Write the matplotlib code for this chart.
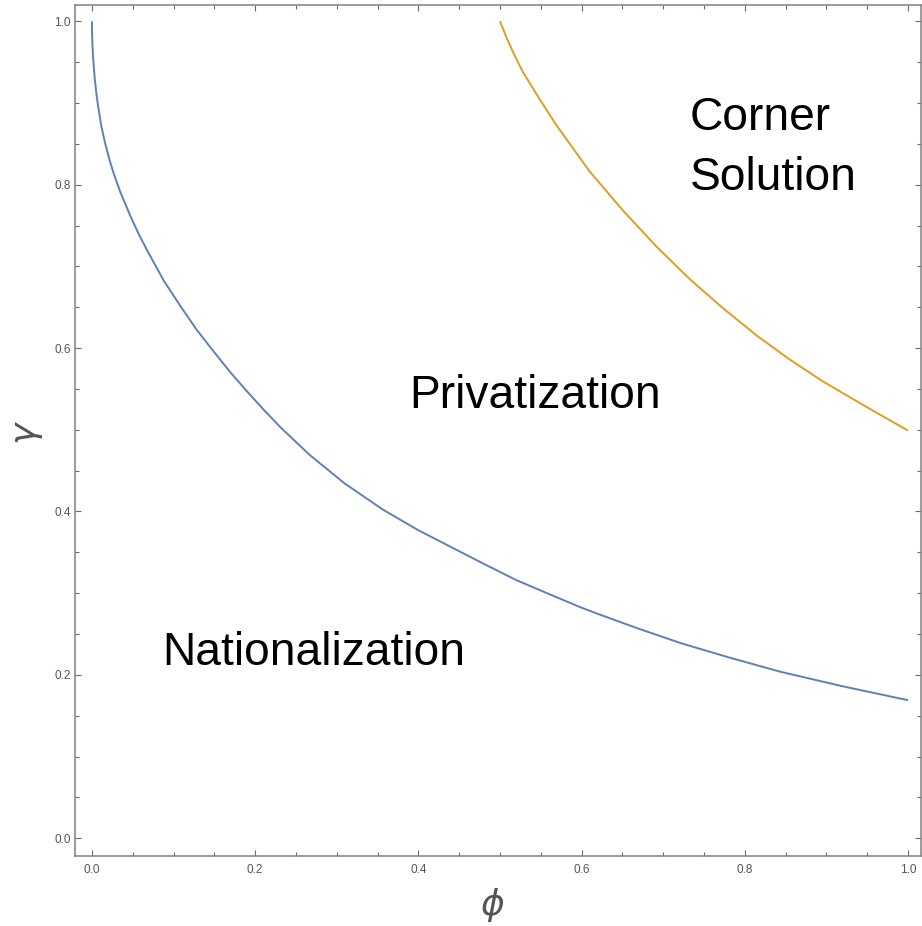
import matplotlib
matplotlib.use("Agg")
import matplotlib.pyplot as plt
from matplotlib.ticker import MultipleLocator, FormatStrFormatter

# Boundary between Nationalization and Privatization (blue)
phi_blue = [0.0, 0.0001, 0.0005, 0.0013, 0.0032, 0.005, 0.0072, 0.0116, 0.0163,
            0.0216, 0.0265, 0.0347, 0.0469, 0.0571, 0.0674, 0.0877, 0.108, 0.1286,
            0.149, 0.169, 0.190, 0.210, 0.231, 0.267, 0.31, 0.357, 0.40, 0.439,
            0.48, 0.52, 0.56, 0.598, 0.623, 0.67, 0.721, 0.78, 0.843, 0.92, 1.0]
gamma_blue = [1.0, 0.988, 0.973, 0.957, 0.932, 0.915, 0.898, 0.871, 0.850,
              0.830, 0.814, 0.791, 0.762, 0.740, 0.720, 0.683, 0.652, 0.622,
              0.596, 0.571, 0.547, 0.525, 0.503, 0.469, 0.434, 0.402, 0.377, 0.357,
              0.336, 0.316, 0.299, 0.283, 0.2735, 0.2565, 0.239, 0.2215, 0.204, 0.186, 0.169]

# Boundary between Privatization and Corner Solution (orange)
phi_orange = [0.5, 0.508, 0.517, 0.528, 0.549, 0.569, 0.610, 0.651, 0.692, 0.733,
              0.773, 0.815, 0.855, 0.896, 0.949, 1.0]
gamma_orange = [1.0, 0.980, 0.960, 0.938, 0.904, 0.873, 0.816, 0.768, 0.724, 0.684,
                0.649, 0.615, 0.586, 0.559, 0.528, 0.499]

region_labels = ["Nationalization", "Privatization", "Corner", "Solution"]

W, H = 922, 926
fig = plt.figure(figsize=(W / 100, H / 100), dpi=100)
left, right, bottom, top = 75, 921, 856, 4.7
ax = fig.add_axes([left / W, (H - bottom) / H, (right - left) / W, (bottom - top) / H])

blue = "#5E81B5"
orange = "#E19C24"
ax.plot(phi_blue, gamma_blue, color=blue, lw=1.4, solid_capstyle="butt",
        solid_joinstyle="round")
ax.plot(phi_orange, gamma_orange, color=orange, lw=1.4, solid_capstyle="butt",
        solid_joinstyle="round")

ax.set_xlim(-0.0208, 1.0159)
ax.set_ylim(-0.0217, 1.0203)

ax.xaxis.set_major_locator(MultipleLocator(0.2))
ax.xaxis.set_minor_locator(MultipleLocator(0.05))
ax.yaxis.set_major_locator(MultipleLocator(0.2))
ax.yaxis.set_minor_locator(MultipleLocator(0.05))
ax.xaxis.set_major_formatter(FormatStrFormatter("%.1f"))
ax.yaxis.set_major_formatter(FormatStrFormatter("%.1f"))

tick_col = "#6b6b6b"
ax.tick_params(which="both", direction="in", top=True, right=True,
               color=tick_col, width=0.8)
ax.tick_params(which="major", length=4.2, labelsize=8.5, labelcolor="#555555")
ax.tick_params(which="minor", length=2.7)
ax.tick_params(axis="x", which="major", pad=6)
ax.tick_params(axis="y", which="major", pad=3)
for lab in ax.get_xticklabels() + ax.get_yticklabels():
    lab.set_fontfamily("Liberation Sans")

for sp in ax.spines.values():
    sp.set_color("#808080")
    sp.set_linewidth(1.1)

ax.set_xlabel(r"$\phi$", fontsize=26, color="#555555", va="center")
ax.xaxis.set_label_coords(0.493, -0.0576)
ax.set_ylabel(r"$\gamma$", fontsize=26, color="#555555", va="center")
ax.yaxis.set_label_coords(-0.056, 0.497)

tkw = dict(fontsize=33.2, family="Liberation Sans", color="black",
           ha="left", va="baseline")
ax.text(0.0865, 0.212, region_labels[0], **tkw)
ax.text(0.3885, 0.5265, region_labels[1], **tkw)
ax.text(0.7325, 0.867, region_labels[2], **tkw)
ax.text(0.7325, 0.794, region_labels[3], **tkw)

fig.savefig("out.png", dpi=100)
